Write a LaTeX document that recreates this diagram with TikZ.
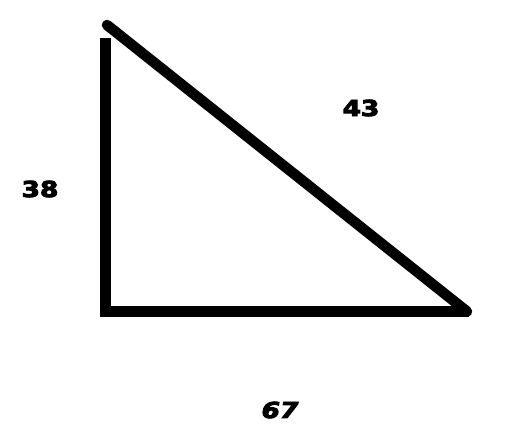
\documentclass[tikz,border=0pt]{standalone}
\usepackage{fontspec}
\setmainfont{DejaVu Sans}
\newfontfamily\heavy[FakeBold=4]{DejaVu Sans Bold}
\newfontfamily\heavyit[FakeBold=4]{DejaVu Sans Bold Oblique}
\begin{document}
\begin{tikzpicture}[x=1pt,y=-1pt,
  side/.style={line width=10.5pt,black},
  lbl/.style={font=\heavy\fontsize{22}{24}\selectfont,inner sep=0pt}]
\useasboundingbox (0,0) rectangle (512,447);
\coordinate (vtop) at (105.5,38);
\coordinate (hstart) at (100,311.5);
\coordinate (right) at (469,311.5);
\coordinate (htop) at (107,25);
\draw[side] (vtop) -- (105.5,316.5);
\draw[side] (hstart) -- (right);
\draw[side,line cap=round] (htop) -- (467,311.5);
\node[lbl] (a) at (40,189) {\scalebox{1.2}[1]{38}};
\node[lbl] (b) at (361,108) {\scalebox{1.2}[1]{43}};
\node[lbl] (c) at (280,410) {\scalebox{1.2}[1]{\heavyit 67}};
\end{tikzpicture}
\end{document}
